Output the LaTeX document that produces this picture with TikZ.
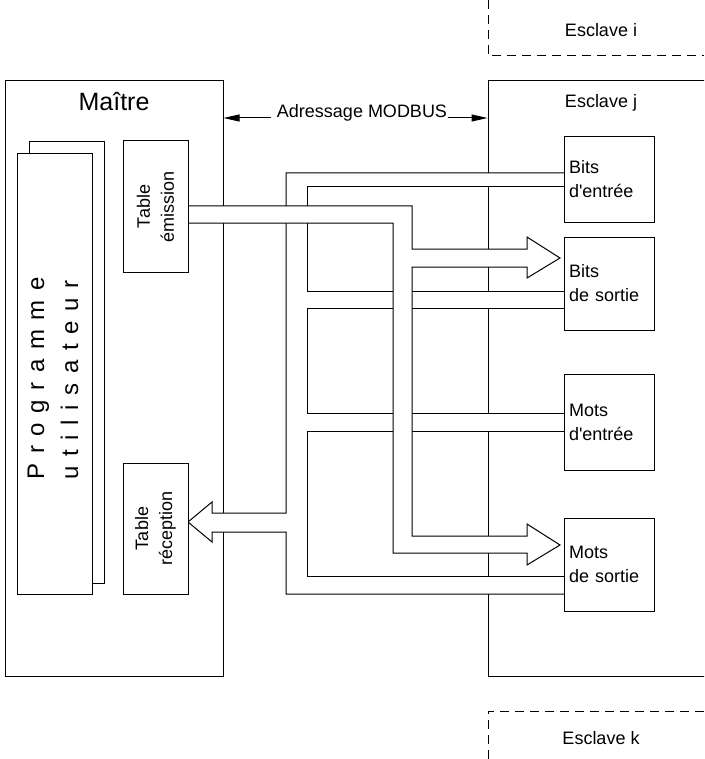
\documentclass[tikz,border=0pt]{standalone}
\usepackage{fontspec}
\setmainfont{Liberation Sans}
\newfontfamily\nolig{Liberation Sans}
\newcommand\apos{{\nolig\symbol{39}}}
\usetikzlibrary{arrows.meta}
\newcommand\lsp{\hspace{9.6pt}}
\begin{document}
\begin{tikzpicture}[x=1pt,y=-1pt,line width=1pt,line join=miter,
  box/.style={draw,fill=white,inner sep=0pt},
  txt/.style={font=\fontsize{18}{24}\selectfont},
  slavebox/.style={box,txt,minimum width=90pt,text width=80pt,inner xsep=5pt,align=left},
  tablebox/.style={box,txt,rotate=90,minimum width=131pt,minimum height=65pt,align=center},
  dashline/.style={dash pattern=on 9pt off 6pt},
  addrarrow/.style={-{Triangle[length=16pt,width=7pt]}},
  label/.style={txt,inner sep=0pt,anchor=base}]
\useasboundingbox (0,0) rectangle (704,759);
\clip (0,0) rectangle (704,759);

% main boxes
\node[box,minimum width=218pt,minimum height=595pt] (master) at (114,378.5) {};
\node[box,minimum width=232pt,minimum height=595pt] (slj) at (604,378.5) {};
\node[box,minimum width=75pt,minimum height=441pt] (progback) at (66.5,362.5) {};
\node[box,minimum width=75pt,minimum height=440pt] (prog) at (54.5,374) {};

% dashed neighbouring slaves
\draw[dashline] (488,0) -- (488,56) -- (704,56);
\draw[dashline] (704,711) -- (488,711) -- (488,759);

% reception network
\fill[white] (564,173) -- (286,173) -- (286,513) -- (212,513) -- (212,502) -- (188,522) -- (212,542) -- (212,532) -- (286,532) -- (286,594) -- (564,594) -- (564,576) -- (307,576) -- (307,431) -- (564,431) -- (564,413) -- (307,413) -- (307,308) -- (564,308) -- (564,291) -- (307,291) -- (307,187) -- (564,187) -- cycle;
\draw (564,173) -- (286,173) -- (286,513) -- (212,513) -- (212,502) -- (188,522) -- (212,542) -- (212,532) -- (286,532) -- (286,594) -- (564,594);
\draw (564,187) -- (307,187) -- (307,291) -- (564,291);
\draw (564,308) -- (307,308) -- (307,413) -- (564,413);
\draw (564,431) -- (307,431) -- (307,576) -- (564,576);

% emission network
\fill[white] (188,206) -- (412,206) -- (412,249) -- (527,249) -- (527,237) -- (560,258) -- (527,278) -- (527,267) -- (412,267) -- (412,536) -- (527,536) -- (527,524) -- (560,545) -- (527,565) -- (527,553) -- (393,553) -- (393,223) -- (188,223) -- cycle;
\draw (188,206) -- (412,206) -- (412,249) -- (527,249) -- (527,237) -- (560,258) -- (527,278) -- (527,267) -- (412,267) -- (412,536) -- (527,536) -- (527,524) -- (560,545) -- (527,565) -- (527,553) -- (393,553) -- (393,223) -- (188,223);

% tables
\node[tablebox] (tabE) at (155.5,206.5) {Table\\émission};
\node[tablebox] (tabR) at (155.5,528.5) {Table\\réception};

% slave data boxes
\node[slavebox,minimum height=85pt] (bitsin) at (609,179.5) {Bits\\d\apos entrée};
\node[slavebox,minimum height=93pt] (bitsout) at (609,283.5) {Bits\\de sortie};
\node[slavebox,minimum height=96pt] (motsin) at (609,422) {Mots\\d\apos entrée};
\node[slavebox,minimum height=93pt] (motsout) at (609,564.5) {Mots\\de sortie};

% program text
\node[rotate=90,anchor=base west,inner sep=0pt,font=\fontsize{24}{28}\selectfont] (p1) at (44,480) {P\lsp r\lsp o\lsp g\lsp r\lsp a\lsp m\lsp m\lsp e};
\node[rotate=90,anchor=base west,inner sep=0pt,font=\fontsize{24}{28}\selectfont] (p2) at (78,480) {u\lsp t\lsp i\lsp l\lsp i\lsp s\lsp a\lsp t\lsp e\lsp u\lsp r};

% labels
\node[label,font=\fontsize{25}{30}\selectfont] (mtitle) at (114,111) {Maître};
\node[label] (sjtitle) at (601,108) {Esclave j};
\node[label] (sititle) at (601,37) {Esclave i};
\node[label] (sktitle) at (601,744) {Esclave k};
\node[label] (addr) at (362,118) {Adressage MODBUS};
\draw[addrarrow] ([xshift=-5pt]addr.base west) -- (addr.base west -| master.east);
\draw[addrarrow] (addr.base east) -- (addr.base east -| slj.west);
\end{tikzpicture}
\end{document}
